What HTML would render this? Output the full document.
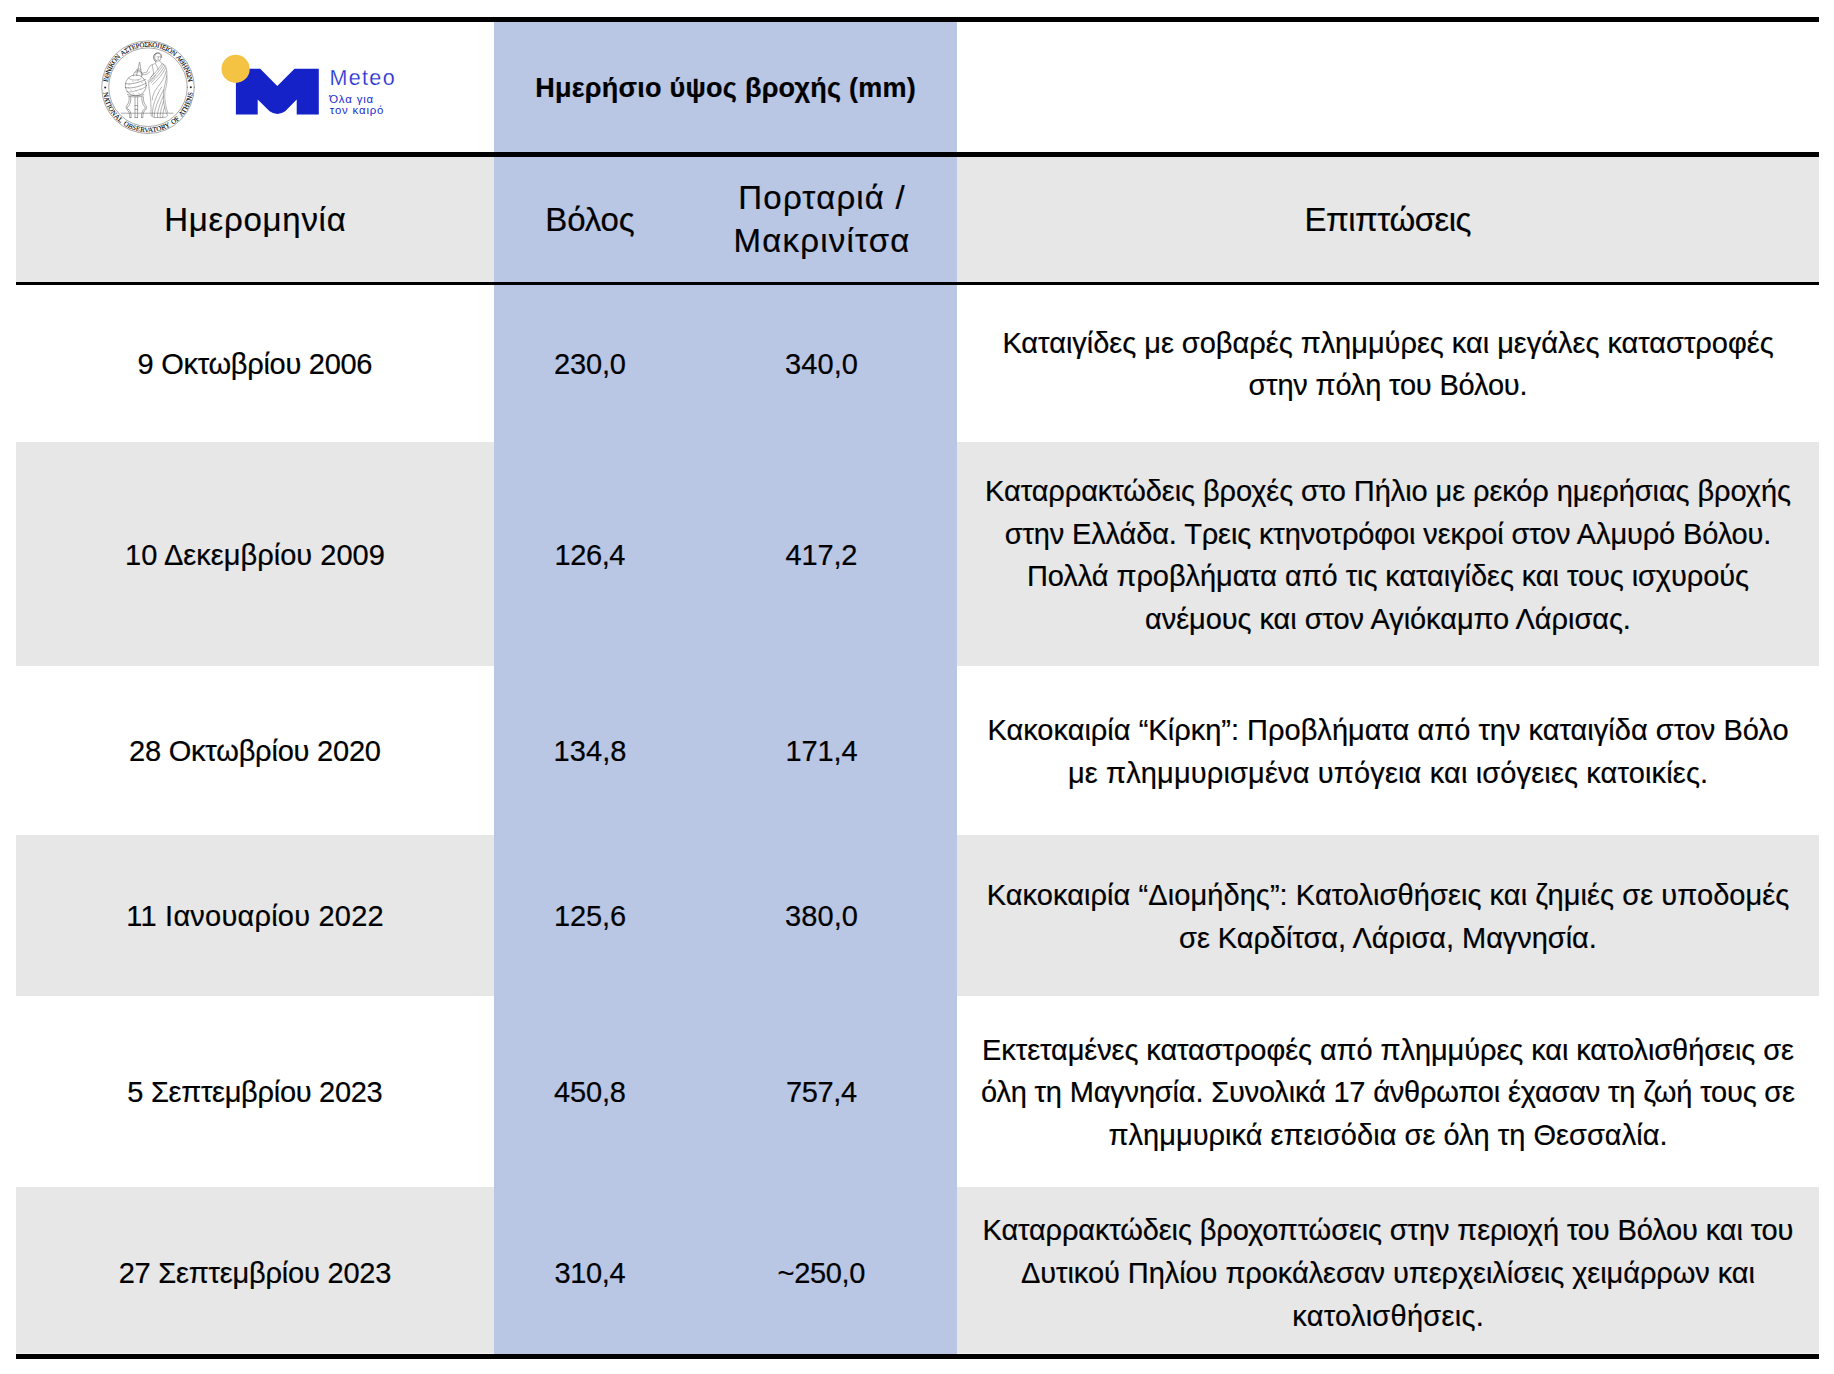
<!DOCTYPE html>
<html lang="el"><head><meta charset="utf-8"><title>Ημερήσιο ύψος βροχής</title>
<style>
html,body{margin:0;padding:0;background:#fff}
body{width:1834px;height:1374px;position:relative;overflow:hidden;font-family:"Liberation Sans",sans-serif;color:#000}
.bg{position:absolute}
.c{position:absolute;display:flex;flex-direction:column;justify-content:center;align-items:center;font-size:29px;line-height:42.67px;padding-top:2.4px;box-sizing:border-box;-webkit-text-stroke:0.22px #000}
.ln{display:block;white-space:nowrap}
.h{font-size:33px;line-height:43.6px;padding-top:1.2px}
.t{font-size:27px;font-weight:bold;line-height:40px}
.rule{position:absolute;left:16px;width:1803px;background:#000}
</style></head><body>
<div class="bg" style="left:16px;top:157px;width:1803px;height:125px;background:#e7e7e7"></div>
<div class="bg" style="left:16px;top:442px;width:1803px;height:224px;background:#e7e7e7"></div>
<div class="bg" style="left:16px;top:835px;width:1803px;height:161px;background:#e7e7e7"></div>
<div class="bg" style="left:16px;top:1187px;width:1803px;height:167px;background:#e7e7e7"></div>
<div class="bg" style="left:494px;top:22px;width:463px;height:1332px;background:#b9c6e4"></div>
<div class="rule" style="top:17px;height:5px"></div>
<div class="rule" style="top:152px;height:5px"></div>
<div class="rule" style="top:282px;height:2.6px"></div>
<div class="rule" style="top:1354px;height:5px"></div>
<div class="bg" style="left:957px;top:1353px;width:862px;height:1px;background:#f3f3f3"></div><div class="bg" style="left:16px;top:1353px;width:478px;height:1px;background:#f3f3f3"></div>
<svg class="bg" style="left:90px;top:30px" width="330" height="115" viewBox="90 30 330 115">
<defs>
<path id="arcTop" d="M 107.5 87.2 A 40.5 40.5 0 0 1 188.5 87.2" fill="none"/>
<path id="arcBot" d="M 102.9 87.2 A 45.1 45.1 0 0 0 193.1 87.2" fill="none"/>
</defs>
<g fill="none" stroke="#555" stroke-width="0.5" stroke-linecap="round" stroke-linejoin="round">
<circle cx="148" cy="87.2" r="46.3"/>
<circle cx="148" cy="87.2" r="39.3"/>
<!-- ground -->
<path d="M121.3 113.2H173.2"/>
<!-- woman -->
<g stroke-width="0.45" stroke="#5a5a5a">
<ellipse cx="157.8" cy="57.2" rx="3.2" ry="3.9"/>
<path d="M156.6 53.2C154.2 53.4 153.2 56 153.8 58.6C154.2 60.2 155 61.2 155.8 61.6" stroke-width="0.9" stroke="#666"/>
<path d="M157 52.9C159.6 52.2 161.8 54 161.6 57" stroke-width="0.7" stroke="#666"/>
<path d="M156.9 56.7h1.1M159.1 56.8h.9M158.5 57.1l-.3 1.5M157.8 59.6h1.1" stroke-width="0.4"/>
<path d="M156.4 60.8C156.2 62.4 155.2 63.6 153.6 64.2C152 64.8 150.8 65.2 150.2 65.8C148.6 67.6 147.6 70 146.8 72.2L142.2 73.2"/>
<path d="M142.8 74.6C145.4 75.2 148 74.2 149.8 71.8"/>
<path d="M159.8 60.8C160.2 62.4 161.6 63.4 163.2 64.2C164.6 64.8 165.4 65.6 165.8 66.8C166.8 69.6 167.2 72.6 166.8 75.6C166.2 80.4 164.6 85 163.8 89.6C163.2 94 163.4 98.4 163.8 102.6C164.4 107.4 165.8 111.8 167.6 115.6C166.6 117.2 164.6 117.8 162.6 117.4"/>
<path d="M153.6 73.4C151.8 76.4 149.8 79.2 148.2 80.6L149.2 82C151.6 80.6 154 77.8 155.6 75.2"/>
<path d="M148.6 82.2C148.6 85.4 149 88.6 149.6 91.8C150.2 95.4 150.6 99 150.8 102.6C151 107 151.2 111.4 151 115.6C152.6 117.4 155.4 118 158 117.4C159.6 117.8 161.2 117.8 162.6 117.4"/>
<path d="M163.6 64.6C160.2 70 155 76 149.8 80.6"/>
<path d="M162 63.8C158.6 69 154 74.2 150.6 77.4"/>
<path d="M164.8 66C161.6 71.6 156.6 77.6 151.2 82.6"/>
<path d="M165.6 68C162.8 73.6 158.2 79.6 152.6 84.6"/>
<path d="M152.2 65C152.8 68 153.4 70.6 153.6 73.4"/>
<path d="M155.4 63.6C156.6 65.4 157.6 67.4 158 69.4"/>
<path d="M166.2 71C165 76.6 161.6 82.6 157.6 87.2C154.6 90.8 152.6 95 152.2 100"/>
<path d="M163.8 89.6C160.4 95.6 157 102.6 155.2 109.4C154.6 112 154.2 114.6 154.2 117.2"/>
<path d="M161.6 87C158 92.6 154.8 99.6 153.2 106.6C152.6 109.6 152.4 112.6 152.4 115.8"/>
<path d="M163.4 96C160.8 101.6 158.6 107.6 157.6 113.4C157.4 114.8 157.4 116.2 157.6 117.4"/>
<path d="M163.6 101.6C161.8 106 160.6 110.6 160.2 115C160.2 116 160.2 116.8 160.4 117.6"/>
<path d="M164.6 107C163.4 110 162.8 113.4 162.8 117"/>
<path d="M166.8 75.6C167.6 80 166.8 85 165.4 89.6C164.6 92.6 164.6 96 165 99.6C165.4 104 166.4 108.6 167.8 112.6" stroke-width="0.4"/>
</g>
<!-- globe -->
<circle cx="135.8" cy="85.4" r="10.5"/>
<path d="M125.4 83.6C131 84.8 139.6 82.4 145.6 79.4M125.2 87.6C132 89 140.6 86.2 146.2 83.2"/>
<path d="M126.8 92C132.6 92.4 141 89.6 145.8 86.8" stroke-width="0.4"/>
<path d="M128.6 78.2C131.6 80.6 136.6 80.8 141 78.6" stroke-width="0.4"/>
<path d="M136.6 75.6C137.2 72.2 138 69 138.6 66.4C139 64.4 139.2 62.8 139.4 62C140 62.8 140.2 64.4 140.4 66.4C140.8 69.4 141.2 72.6 141.6 76.6"/>
<path d="M136.2 69.8C137.6 68.6 140 68.6 141 69.8M135.4 72.6C137.4 71.2 140.6 71.2 141.8 72.8" stroke-width="0.4"/>
<g stroke-width="0.4" stroke="#777">
<path d="M129 84.6l1 .6M132.4 81.2l1 .6M137.6 80.2l1 .5M141.6 82.6l1 .4M130.6 89.8l1 .5M135.6 90.6l1 .4M140.2 89.2l1 .4M133 93.6l1 .4M138.4 93l1 .4M128 87.6l.8.4"/>
</g>
<path d="M133.2 75.4C133.6 72.6 135.6 70.6 138.2 70.4C140.6 70.4 142.2 72.4 142.6 75.2" stroke-width="0.45"/>
<!-- stand -->
<path d="M127.4 94.6C129.6 95.8 141.4 95.8 143.8 94.4M128.2 96.2C131 97.2 140.6 97.2 143 96"/>
<path d="M135 97V117.6M137.6 97V117.6M135 117.6H137.6M135 105.6H137.6M135 109.4H137.6"/>
<path d="M130.8 97C131 101 130.2 104.6 128 106.6C127 107.6 127.4 109.4 129 109.6C130.6 111.6 131.6 114.6 131 117.6"/>
<path d="M129.2 97C129.4 100.6 128.6 103.6 126.8 105.4C125.6 107 126.2 109.8 128 110.6C129.4 112.6 130 115 129.6 117.6H131"/>
<path d="M141.8 97C141.6 101 142.4 104.6 144.6 106.6C145.6 107.6 145.2 109.4 143.6 109.6C142 111.6 141 114.6 141.6 117.6"/>
<path d="M143.4 97C143.2 100.6 144 103.6 145.8 105.4C147 107 146.4 109.8 144.6 110.6C143.2 112.6 142.6 115 143 117.6H141.6"/>
</g>
<g font-family="'Liberation Serif',serif" font-size="6.9" fill="#000" stroke="#000" stroke-width="0.1">
<text><textPath href="#arcTop" startOffset="50%" text-anchor="middle" textLength="117" lengthAdjust="spacing" word-spacing="1">ΕΘΝΙΚΟΝ ΑΣΤΕΡΟΣΚΟΠΕΙΟΝ ΑΘΗΝΩΝ</textPath></text>
<text><textPath href="#arcBot" startOffset="50%" text-anchor="middle" textLength="131" lengthAdjust="spacing" word-spacing="1">NATIONAL OBSERVATORY OF ATHENS</textPath></text>
</g>
<circle cx="105.2" cy="87.6" r="1" fill="#222"/>
<circle cx="190.8" cy="87.2" r="1" fill="#222"/>
<!-- meteo -->
<path fill="#1422c8" d="M235.9 68.8H260.2L277.3 85.9L294.5 68.8H318.8V114.6H296.7V99.5L285.2 111.2Q277.3 116.6 269.6 111.2L257.7 99.5V114.6H235.9Z"/>
<circle cx="235.6" cy="68.9" r="14.1" fill="#f5c344"/>
<g font-family="'Liberation Sans',sans-serif" fill="#1a2bd0">
<text x="329.4" y="84.5" font-size="21.5" textLength="65.2" lengthAdjust="spacing" stroke="#fff" stroke-width="0.25" paint-order="fill stroke">Meteo</text>
<text x="329.2" y="103.3" font-size="11.4" textLength="44" lengthAdjust="spacing">Όλα για</text>
<text x="329.8" y="114.2" font-size="11.4" textLength="53.6" lengthAdjust="spacing">τον καιρό</text>
</g>
</svg>
<div class="c t" style="left:494px;top:22px;width:463px;height:130px"><span class="ln" style="letter-spacing:0.258px;margin-right:-0.258px">Ημερήσιο ύψος βροχής (mm)</span></div>
<div class="c h" style="left:16px;top:157px;width:478px;height:125px"><span class="ln" style="letter-spacing:0.733px;margin-right:-0.733px">Ημερομηνία</span></div>
<div class="c h" style="left:494px;top:157px;width:192px;height:125px"><span class="ln" style="letter-spacing:-0.150px;margin-right:0.150px">Βόλος</span></div>
<div class="c h" style="left:686px;top:157px;width:271px;height:123px"><span class="ln" style="letter-spacing:1.189px;margin-right:-1.189px">Πορταριά /</span><span class="ln" style="letter-spacing:1.211px;margin-right:-1.211px">Μακρινίτσα</span></div>
<div class="c h" style="left:957px;top:157px;width:862px;height:125px"><span class="ln" style="letter-spacing:-0.500px;margin-right:0.500px">Επιπτώσεις</span></div>
<div class="c " style="left:16px;top:284.5px;width:478px;height:157.5px"><span class="ln" style="letter-spacing:-0.280px;margin-right:0.280px">9 Οκτωβρίου 2006</span></div>
<div class="c " style="left:494px;top:284.5px;width:192px;height:157.5px"><span class="ln" style="letter-spacing:-0.200px;margin-right:0.200px">230,0</span></div>
<div class="c " style="left:686px;top:284.5px;width:271px;height:157.5px"><span class="ln" style="letter-spacing:0.050px;margin-right:-0.050px">340,0</span></div>
<div class="c " style="left:957px;top:284.5px;width:862px;height:157.5px"><span class="ln" style="letter-spacing:-0.019px;margin-right:0.019px">Καταιγίδες με σοβαρές πλημμύρες και μεγάλες καταστροφές</span><span class="ln" style="letter-spacing:-0.168px;margin-right:0.168px">στην πόλη του Βόλου.</span></div>
<div class="c " style="left:16px;top:442px;width:478px;height:224px"><span class="ln" style="letter-spacing:0.029px;margin-right:-0.029px">10 Δεκεμβρίου 2009</span></div>
<div class="c " style="left:494px;top:442px;width:192px;height:224px"><span class="ln" style="letter-spacing:-0.450px;margin-right:0.450px">126,4</span></div>
<div class="c " style="left:686px;top:442px;width:271px;height:224px"><span class="ln" style="letter-spacing:-0.200px;margin-right:0.200px">417,2</span></div>
<div class="c " style="left:957px;top:442px;width:862px;height:224px"><span class="ln" style="letter-spacing:-0.082px;margin-right:0.082px">Καταρρακτώδεις βροχές στο Πήλιο με ρεκόρ ημερήσιας βροχής</span><span class="ln" style="letter-spacing:-0.129px;margin-right:0.129px">στην Ελλάδα. Τρεις κτηνοτρόφοι νεκροί στον Αλμυρό Βόλου.</span><span class="ln" style="letter-spacing:-0.069px;margin-right:0.069px">Πολλά προβλήματα από τις καταιγίδες και τους ισχυρούς</span><span class="ln" style="letter-spacing:-0.059px;margin-right:0.059px">ανέμους και στον Αγιόκαμπο Λάρισας.</span></div>
<div class="c " style="left:16px;top:666px;width:478px;height:169px"><span class="ln" style="letter-spacing:-0.206px;margin-right:0.206px">28 Οκτωβρίου 2020</span></div>
<div class="c " style="left:494px;top:666px;width:192px;height:169px"><span class="ln" style="letter-spacing:0.050px;margin-right:-0.050px">134,8</span></div>
<div class="c " style="left:686px;top:666px;width:271px;height:169px"><span class="ln" style="letter-spacing:-0.125px;margin-right:0.125px">171,4</span></div>
<div class="c " style="left:957px;top:666px;width:862px;height:169px"><span class="ln" style="letter-spacing:0.009px;margin-right:-0.009px">Κακοκαιρία “Κίρκη”: Προβλήματα από την καταιγίδα στον Βόλο</span><span class="ln" style="letter-spacing:0.147px;margin-right:-0.147px">με πλημμυρισμένα υπόγεια και ισόγειες κατοικίες.</span></div>
<div class="c " style="left:16px;top:835px;width:478px;height:161px"><span class="ln" style="letter-spacing:0.212px;margin-right:-0.212px">11 Ιανουαρίου 2022</span></div>
<div class="c " style="left:494px;top:835px;width:192px;height:161px"><span class="ln" style="letter-spacing:-0.125px;margin-right:0.125px">125,6</span></div>
<div class="c " style="left:686px;top:835px;width:271px;height:161px"><span class="ln" style="letter-spacing:0.050px;margin-right:-0.050px">380,0</span></div>
<div class="c " style="left:957px;top:835px;width:862px;height:161px"><span class="ln" style="letter-spacing:0.069px;margin-right:-0.069px">Κακοκαιρία “Διομήδης”: Κατολισθήσεις και ζημιές σε υποδομές</span><span class="ln" style="letter-spacing:-0.041px;margin-right:0.041px">σε Καρδίτσα, Λάρισα, Μαγνησία.</span></div>
<div class="c " style="left:16px;top:996px;width:478px;height:191px"><span class="ln" style="letter-spacing:-0.288px;margin-right:0.288px">5 Σεπτεμβρίου 2023</span></div>
<div class="c " style="left:494px;top:996px;width:192px;height:191px"><span class="ln" style="letter-spacing:-0.200px;margin-right:0.200px">450,8</span></div>
<div class="c " style="left:686px;top:996px;width:271px;height:191px"><span class="ln" style="letter-spacing:-0.375px;margin-right:0.375px">757,4</span></div>
<div class="c " style="left:957px;top:996px;width:862px;height:191px"><span class="ln" style="letter-spacing:-0.075px;margin-right:0.075px">Εκτεταμένες καταστροφές από πλημμύρες και κατολισθήσεις σε</span><span class="ln" style="letter-spacing:-0.176px;margin-right:0.176px">όλη τη Μαγνησία. Συνολικά 17 άνθρωποι έχασαν τη ζωή τους σε</span><span class="ln" style="letter-spacing:0.021px;margin-right:-0.021px">πλημμυρικά επεισόδια σε όλη τη Θεσσαλία.</span></div>
<div class="c " style="left:16px;top:1187px;width:478px;height:170.4000000000001px"><span class="ln" style="letter-spacing:-0.206px;margin-right:0.206px">27 Σεπτεμβρίου 2023</span></div>
<div class="c " style="left:494px;top:1187px;width:192px;height:170.4000000000001px"><span class="ln" style="letter-spacing:-0.375px;margin-right:0.375px">310,4</span></div>
<div class="c " style="left:686px;top:1187px;width:271px;height:170.4000000000001px"><span class="ln" style="letter-spacing:-0.320px;margin-right:0.320px">~250,0</span></div>
<div class="c " style="left:957px;top:1187px;width:862px;height:170.4000000000001px"><span class="ln" style="letter-spacing:-0.123px;margin-right:0.123px">Καταρρακτώδεις βροχοπτώσεις στην περιοχή του Βόλου και του</span><span class="ln" style="letter-spacing:-0.063px;margin-right:0.063px">Δυτικού Πηλίου προκάλεσαν υπερχειλίσεις χειμάρρων και</span><span class="ln" style="letter-spacing:0.269px;margin-right:-0.269px">κατολισθήσεις.</span></div>
</body></html>
